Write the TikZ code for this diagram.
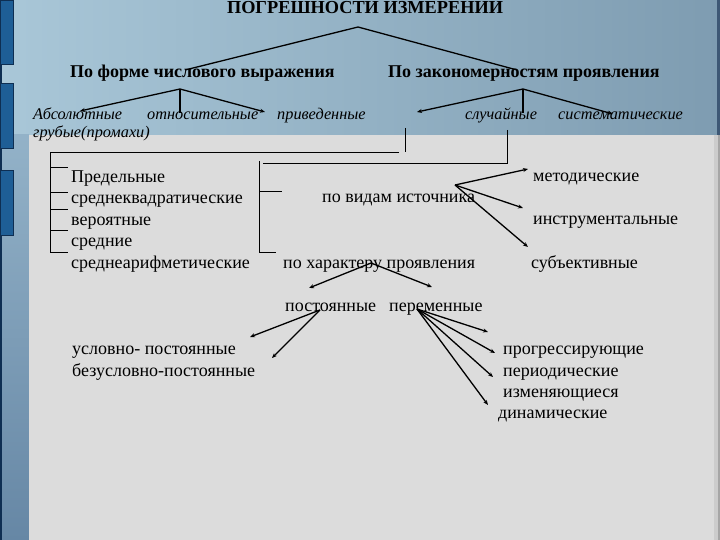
\documentclass[tikz,border=0pt]{standalone}
\usepackage{fontspec}
\setmainfont{Liberation Serif}
\usetikzlibrary{arrows.meta}
\definecolor{bandL}{HTML}{A9C7D8}
\definecolor{bandM}{HTML}{C9E6F2}
\definecolor{bandR}{HTML}{7E9CB1}
\definecolor{panel}{HTML}{DCDCDC}
\definecolor{stripT}{HTML}{93B2C8}
\definecolor{stripB}{HTML}{6687A5}
\definecolor{tab}{HTML}{1E5E96}
\definecolor{tabedge}{HTML}{0E2E52}
\tikzset{
  txt/.style={anchor=base west, inner sep=0pt, font=\fontsize{18}{21}\selectfont},
  hbold/.style={anchor=base west, inner sep=0pt, font=\fontsize{18}{21}\selectfont\bfseries},
  ital/.style={anchor=base west, inner sep=0pt, font=\fontsize{16.3}{19}\selectfont\itshape},
  ln/.style={line width=1.3pt, black},
  arr/.style={ln, -{Stealth[length=5pt,width=4pt]}},
  brk/.style={line width=0.9pt, black},
}
\begin{document}
\begin{tikzpicture}[x=1pt,y=-1pt]
\useasboundingbox (0,0) rectangle (720,540);
% background
\shade[left color=bandL, middle color=bandM, right color=bandR] (0,0) rectangle (720,135);
\shade[top color=stripT, bottom color=stripB] (0,135) rectangle (29,540);
\fill[tabedge] (0,0) rectangle (2,540);
\fill[panel] (29,135) rectangle (714,540);
\fill[gray!40] (714,135) rectangle (720,540);
\fill[gray!70] (718,135) rectangle (720,540);
\fill[tabedge!80] (717,0) rectangle (720,135);
\foreach \a/\b in {0/64,83/148,170/235}
  \filldraw[fill=tab, draw=tabedge, line width=0.8pt] (0,\a) rectangle (13,\b);

% texts
\node[anchor=base, inner sep=0pt, font=\fontsize{18.3}{22}\selectfont\bfseries] (title) at (365,14) {ПОГРЕШНОСТИ  ИЗМЕРЕНИИ};
\node[hbold] (h1) at (70,78) {По форме числового выражения};
\node[hbold] (h2) at (388,78) {По закономерностям проявления};

\node[ital] (abs) at (33,120) {Абсолютные};
\node[ital] (otn) at (147,120) {относительные};
\node[ital] (priv) at (277,120) {приведенные};
\node[ital] (sluch) at (465,120) {случайные};
\node[ital] (sist) at (558,120) {систематические};
\node[ital] (grub) at (33,138) {грубые(промахи)};

\node[txt] (pred) at (71,182.5) {Предельные};
\node[txt] (skv) at (71,204) {среднеквадратические};
\node[txt] (ver) at (71,225.5) {вероятные};
\node[txt] (sred) at (71,247) {средние};
\node[txt] (sra) at (71,268.5) {среднеарифметические};

\node[txt] (vid) at (322,203) {по видам источника};
\node[txt] (har) at (283,268) {по характеру проявления};

\node[txt] (met) at (533,182) {методические};
\node[txt] (instr) at (533,225) {инструментальные};
\node[txt] (subj) at (531,268) {субъективные};

\node[txt] (post) at (285,311) {постоянные};
\node[txt] (perem) at (389,311) {переменные};

\node[txt] (usl) at (72,354) {условно- постоянные};
\node[txt] (bezusl) at (72,376) {безусловно-постоянные};

\node[txt] (progr) at (503,354) {прогрессирующие};
\node[txt] (period) at (503,376) {периодические};
\node[txt] (izm) at (503,397) {изменяющиеся};
\node[txt] (din) at (498,418) {динамические};

% connector points
\coordinate (T) at (358,27);
\coordinate (T1) at (185,70);
\coordinate (T2) at (517,70);
\coordinate (A1) at (180,89);
\coordinate (A1a) at (80,111);
\coordinate (A1b) at (180,113);
\coordinate (A1c) at (265,112);
\coordinate (A2) at (523,89);
\coordinate (A2a) at (417,112);
\coordinate (A2b) at (523,113);
\coordinate (A2c) at (613,114);
\coordinate (V) at (455,185);
\coordinate (Va) at (528,169);
\coordinate (Vb) at (523,208);
\coordinate (Vc) at (528,247);
\coordinate (H) at (371,263);
\coordinate (Ha) at (309,288);
\coordinate (Hb) at (432,287);
\coordinate (P) at (320,310);
\coordinate (Pa) at (250,337);
\coordinate (Pb) at (272,358);
\coordinate (R) at (417,309);
\coordinate (Ra) at (488,332);
\coordinate (Rb) at (495,353);
\coordinate (Rc) at (493,377);
\coordinate (Rd) at (488,405);

\draw[ln] (T) -- (T1);
\draw[ln] (T) -- (T2);
\draw[arr] (A1) -- (A1a);
\draw[ln] (A1) -- (A1b);
\draw[arr] (A1) -- (A1c);
\draw[arr] (A2) -- (A2a);
\draw[ln] (A2) -- (A2b);
\draw[arr] (A2) -- (A2c);
\draw[arr] (V) -- (Va);
\draw[arr] (V) -- (Vb);
\draw[arr] (V) -- (Vc);
\draw[arr] (H) -- (Ha);
\draw[arr] (H) -- (Hb);
\draw[arr] (P) -- (Pa);
\draw[arr] (P) -- (Pb);
\draw[arr] (R) -- (Ra);
\draw[arr] (R) -- (Rb);
\draw[arr] (R) -- (Rc);
\draw[arr] (R) -- (Rd);

% brackets
\coordinate (B1t) at (405,128);
\coordinate (B1c) at (405,152);
\coordinate (B1r) at (399,152);
\coordinate (B1l) at (50,152);
\coordinate (B1b) at (50,252);
\draw[brk] (B1t) -- (B1c);
\draw[brk] (B1r) -- (B1l) -- (B1b);
\foreach \y in {167,192,209,230,252}
  \draw[brk] (50,\y) -- (68,\y);

\coordinate (B2t) at (507,130);
\coordinate (B2c) at (507,163);
\coordinate (B2l) at (263,163);
\coordinate (B2v) at (259,161);
\coordinate (B2b) at (259,252);
\draw[brk] (B2t) -- (B2c) -- (B2l);
\draw[brk] (B2v) -- (B2b);
\draw[brk] (259,191) -- (282,191);
\draw[brk] (259,252) -- (276,252);
\end{tikzpicture}
\end{document}
